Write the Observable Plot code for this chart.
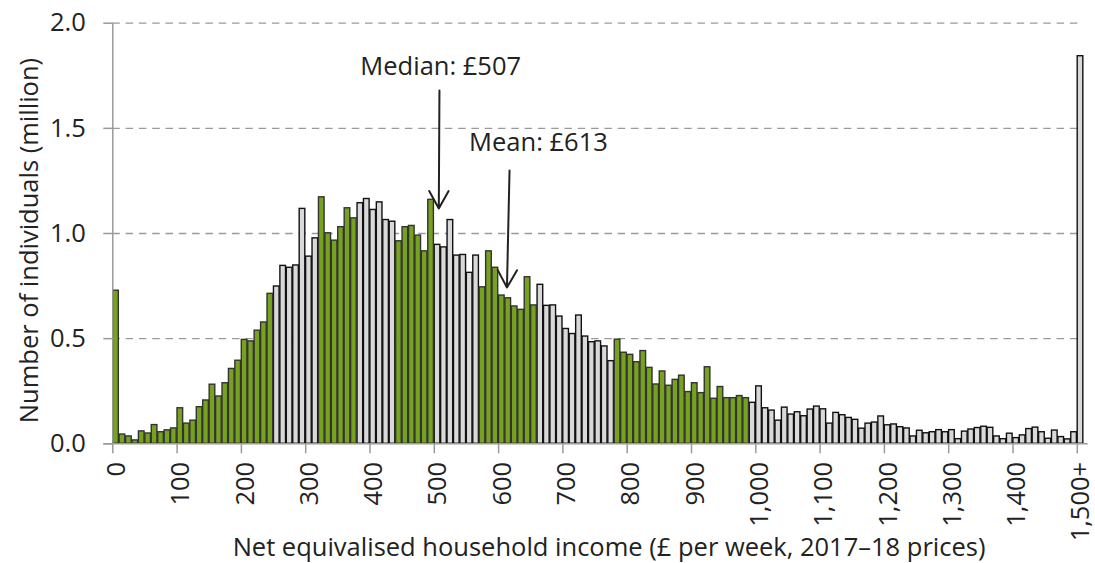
<!DOCTYPE html>
<html><head><meta charset="utf-8">
<script src="https://cdn.jsdelivr.net/npm/d3@7"></script>
<script src="https://cdn.jsdelivr.net/npm/@observablehq/plot@0.6"></script>
<style>html,body{margin:0;padding:0;background:#fff;} svg{display:block}</style>
</head><body><div id="chart"></div>
<script>
// Bins: £10 per week each, the last one is "1,500+"
const binWidth = 10;
const binStarts = d3.range(0, 1501, binWidth);
// Number of individuals (million) per bin
const counts = [
  0.728, 0.044, 0.035, 0.016, 0.059, 0.049, 0.089, 0.055, 0.064, 0.073,
  0.169, 0.096, 0.110, 0.174, 0.206, 0.281, 0.225, 0.288, 0.356, 0.395,
  0.494, 0.487, 0.538, 0.577, 0.713, 0.748, 0.846, 0.837, 0.848, 1.117,
  0.890, 0.977, 1.172, 1.001, 0.966, 1.030, 1.120, 1.072, 1.144, 1.164,
  1.112, 1.148, 1.064, 1.056, 0.963, 1.030, 1.036, 0.990, 0.915, 1.160,
  0.946, 0.934, 1.064, 0.895, 0.898, 0.813, 0.895, 0.744, 0.915, 0.837,
  0.705, 0.692, 0.653, 0.637, 0.792, 0.658, 0.756, 0.656, 0.658, 0.605,
  0.546, 0.522, 0.610, 0.510, 0.483, 0.487, 0.463, 0.393, 0.495, 0.433,
  0.423, 0.388, 0.441, 0.361, 0.282, 0.344, 0.276, 0.304, 0.324, 0.246,
  0.288, 0.241, 0.364, 0.214, 0.270, 0.217, 0.217, 0.227, 0.217, 0.195,
  0.273, 0.169, 0.158, 0.110, 0.172, 0.139, 0.150, 0.131, 0.163, 0.177,
  0.164, 0.096, 0.147, 0.136, 0.123, 0.114, 0.072, 0.096, 0.101, 0.130,
  0.088, 0.092, 0.079, 0.073, 0.035, 0.062, 0.050, 0.055, 0.065, 0.055,
  0.065, 0.022, 0.058, 0.068, 0.075, 0.081, 0.076, 0.035, 0.022, 0.048,
  0.027, 0.040, 0.070, 0.077, 0.055, 0.024, 0.063, 0.032, 0.021, 0.055,
  1.843
];
// Income ranges drawn in green (alternate groups)
const greenRanges = [[0, 250], [320, 380], [440, 500], [570, 660], [780, 990]];
const yTicks = [0, 0.5, 1, 1.5, 2];
const yTickLabels = ["0.0", "0.5", "1.0", "1.5", "2.0"];
const xTicks = [0, 100, 200, 300, 400, 500, 600, 700, 800, 900, 1000, 1100, 1200, 1300, 1400, 1500];
const xTickLabels = ["0", "100", "200", "300", "400", "500", "600", "700", "800", "900",
  "1,000", "1,100", "1,200", "1,300", "1,400", "1,500+"];
const annotations = [
  {label: "Median: £507", value: 507, textX: 510, textY: 1.794, topX: 508, topY: 1.68, tipY: 1.119},
  {label: "Mean: £613", value: 613, textX: 662, textY: 1.433, topX: 617, topY: 1.30, tipY: 0.743}
];
const xLabel = "Net equivalised household income (£ per week, 2017–18 prices)";
const yLabel = "Number of individuals (million)";

const bars = binStarts.map((x, i) => ({
  x1: x, x2: x + binWidth, y: counts[i],
  green: greenRanges.some(([a, b]) => x >= a && x < b)
}));

const font = 25.5;
const axisGrey = "#9a9a9a";
const barOpts = {x1: "x1", x2: "x2", y1: 0, y2: "y", strokeWidth: 1.4, insetLeft: 0.4, insetRight: 0.4};

const chart = Plot.plot({
  width: 1095, height: 563,
  marginLeft: 112.3, marginRight: 18.2, marginTop: 22.7, marginBottom: 119.7,
  x: {domain: [0, 1500], axis: null, label: null},
  y: {domain: [0, 2], axis: null, label: null},
  style: {fontFamily: "'Open Sans', 'Noto Sans', sans-serif", fontSize: font + "px", color: "#222", background: "#fff", overflow: "visible"},
  marks: [
    Plot.ruleY(yTicks.filter(d => d > 0), {x1: 0, x2: 1508, stroke: axisGrey, strokeWidth: 1.3, strokeDasharray: "7.5,5.8"}),
    Plot.rect(bars.filter(d => !d.green), {...barOpts, fill: "#d9d9d9", stroke: "#111"}),
    Plot.rect(bars.filter(d => d.green), {...barOpts, fill: "#77a21f", stroke: "#333"}),
    Plot.ruleX([0], {y1: 0, y2: 2, stroke: axisGrey, strokeWidth: 1.5}),
    Plot.ruleY([0], {x1: -14, x2: 1517, stroke: axisGrey, strokeWidth: 1.5}),
    Plot.ruleY(yTicks, {x1: -14, x2: 0, stroke: axisGrey, strokeWidth: 1.5}),
    Plot.axisX(xTicks, {tickSize: 10, tickFormat: () => "", stroke: axisGrey, strokeWidth: 1.5, label: null}),
    Plot.text(xTicks, {x: d => d, y: 0, text: (d, i) => xTickLabels[i], rotate: -90,
      textAnchor: "end", lineAnchor: "middle", dx: 4, dy: 18, fontSize: font}),
    Plot.text(yTicks, {x: 0, y: d => d, text: (d, i) => yTickLabels[i],
      textAnchor: "end", lineAnchor: "middle", dx: -27, fontSize: font}),
    Plot.arrow(annotations, {x1: "topX", y1: "topY", x2: "value", y2: "tipY",
      stroke: "#222", strokeWidth: 2, headLength: 15, headAngle: 58}),
    Plot.text(annotations, {x: "textX", y: "textY", text: "label", fontSize: font, lineAnchor: "middle"}),
    Plot.text([xLabel], {frameAnchor: "bottom", textAnchor: "middle", lineAnchor: "middle", dx: 14, dy: 104, fontSize: font}),
    Plot.text([yLabel], {frameAnchor: "left", rotate: -90, textAnchor: "middle", lineAnchor: "middle", dx: -83, dy: 7, fontSize: font})
  ]
});
document.getElementById("chart").appendChild(chart);
</script>
</body></html>
